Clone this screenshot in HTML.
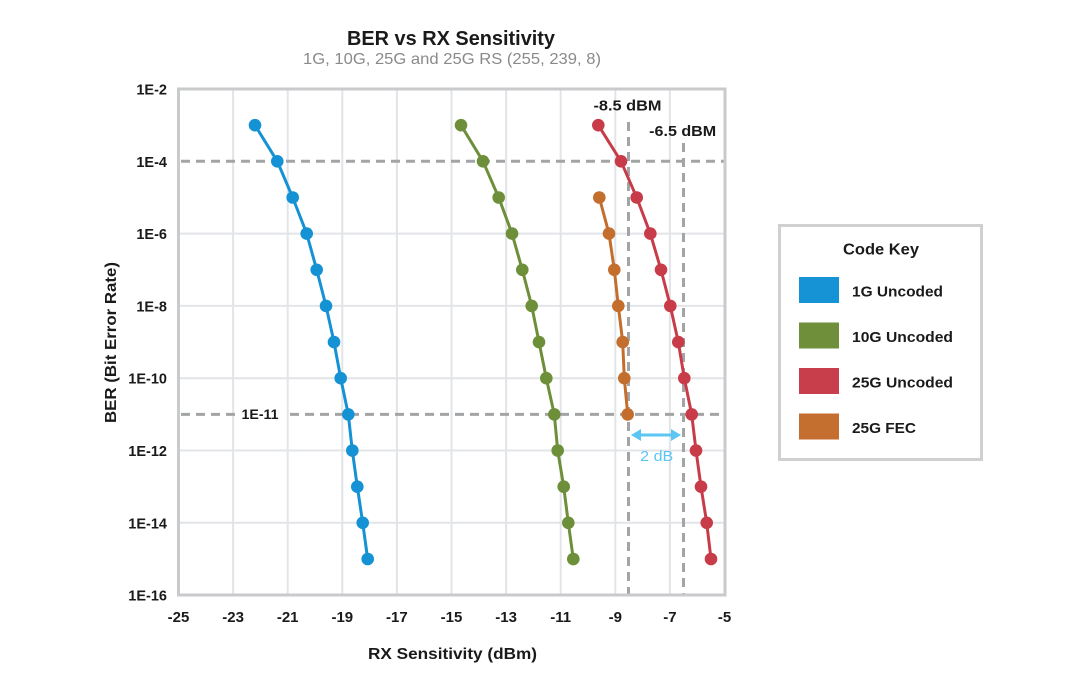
<!DOCTYPE html>
<html><head><meta charset="utf-8"><style>
html,body{margin:0;padding:0;background:#fff;}
svg{display:block;font-family:"Liberation Sans",sans-serif;}
</style></head><body>
<svg width="1080" height="680" viewBox="0 0 1080 680" xmlns="http://www.w3.org/2000/svg">
<rect width="1080" height="680" fill="#fff"/>
<!-- title -->
<text x="451" y="45" text-anchor="middle" font-size="20" font-weight="bold" fill="#1a1a1a" textLength="208" lengthAdjust="spacingAndGlyphs">BER vs RX Sensitivity</text>
<text x="452" y="64" text-anchor="middle" font-size="16" fill="#8a8a8a" textLength="298" lengthAdjust="spacingAndGlyphs">1G, 10G, 25G and 25G RS (255, 239, 8)</text>

<!-- grid -->
<g stroke="#e2e4e8" stroke-width="2">
<line x1="233.1" y1="89" x2="233.1" y2="595"/>
<line x1="287.7" y1="89" x2="287.7" y2="595"/>
<line x1="342.3" y1="89" x2="342.3" y2="595"/>
<line x1="396.9" y1="89" x2="396.9" y2="595"/>
<line x1="451.5" y1="89" x2="451.5" y2="595"/>
<line x1="506.1" y1="89" x2="506.1" y2="595"/>
<line x1="560.7" y1="89" x2="560.7" y2="595"/>
<line x1="615.3" y1="89" x2="615.3" y2="595"/>
<line x1="669.9" y1="89" x2="669.9" y2="595"/>
<line x1="178" y1="233.6" x2="725" y2="233.6"/>
<line x1="178" y1="305.9" x2="725" y2="305.9"/>
<line x1="178" y1="378.2" x2="725" y2="378.2"/>
<line x1="178" y1="450.5" x2="725" y2="450.5"/>
<line x1="178" y1="522.8" x2="725" y2="522.8"/>
</g>

<!-- dashed reference lines -->
<g stroke="#a3a4a6" stroke-width="3" stroke-dasharray="9 6" fill="none">
<line x1="181" y1="161.3" x2="724" y2="161.3"/>
<line x1="181" y1="414.4" x2="236" y2="414.4"/>
<line x1="290" y1="414.4" x2="724" y2="414.4"/>
<line x1="628.5" y1="122" x2="628.5" y2="594"/>
<line x1="683.5" y1="143" x2="683.5" y2="594"/>
</g>

<!-- annotation labels -->
<text x="627.5" y="110.5" text-anchor="middle" font-size="15" font-weight="bold" fill="#1a1a1a" textLength="68" lengthAdjust="spacingAndGlyphs">-8.5 dBM</text>
<text x="682.7" y="136" text-anchor="middle" font-size="15" font-weight="bold" fill="#1a1a1a" textLength="67" lengthAdjust="spacingAndGlyphs">-6.5 dBM</text>
<text x="260" y="419" text-anchor="middle" font-size="14" font-weight="bold" fill="#1a1a1a" textLength="37" lengthAdjust="spacingAndGlyphs">1E-11</text>

<!-- 2 dB arrow -->
<g stroke="#5bc6f2" stroke-width="3" fill="#5bc6f2">
<line x1="638" y1="435" x2="674" y2="435"/>
<polygon points="631,435 641,429 641,441" stroke="none"/>
<polygon points="681,435 671,429 671,441" stroke="none"/>
</g>
<text x="656.7" y="461" text-anchor="middle" font-size="15" fill="#5bc6f2" textLength="33" lengthAdjust="spacingAndGlyphs">2 dB</text>

<!-- series -->
<g stroke-width="3" fill="none" stroke-linejoin="round">
<polyline stroke="#1592d3" points="255,125.2 277.3,161.3 292.7,197.5 306.7,233.6 316.7,269.8 326,305.9 334,342.1 340.7,378.2 348.3,414.4 352.3,450.5 357.3,486.7 362.7,522.8 367.7,559"/>
<polyline stroke="#6e8f3a" points="461,125.2 483,161.3 498.7,197.5 512,233.6 522.3,269.8 531.7,305.9 539,342.1 546.3,378.2 554.3,414.4 557.7,450.5 563.7,486.7 568.3,522.8 573.3,559"/>
<polyline stroke="#c73c48" points="598.3,125.2 621,161.3 636.7,197.5 650.3,233.6 661,269.8 670.3,305.9 678.3,342.1 684.3,378.2 691.7,414.4 696,450.5 701,486.7 706.7,522.8 711,559"/>
<polyline stroke="#c46e2e" points="599.3,197.5 609,233.6 614.3,269.8 618.3,305.9 622.7,342.1 624.3,378.2 627.7,414.4"/>
</g>
<g fill="#1592d3">
<circle cx="255" cy="125.2" r="6.3"/><circle cx="277.3" cy="161.3" r="6.3"/><circle cx="292.7" cy="197.5" r="6.3"/><circle cx="306.7" cy="233.6" r="6.3"/><circle cx="316.7" cy="269.8" r="6.3"/><circle cx="326" cy="305.9" r="6.3"/><circle cx="334" cy="342.1" r="6.3"/><circle cx="340.7" cy="378.2" r="6.3"/><circle cx="348.3" cy="414.4" r="6.3"/><circle cx="352.3" cy="450.5" r="6.3"/><circle cx="357.3" cy="486.7" r="6.3"/><circle cx="362.7" cy="522.8" r="6.3"/><circle cx="367.7" cy="559" r="6.3"/>
</g>
<g fill="#6e8f3a">
<circle cx="461" cy="125.2" r="6.3"/><circle cx="483" cy="161.3" r="6.3"/><circle cx="498.7" cy="197.5" r="6.3"/><circle cx="512" cy="233.6" r="6.3"/><circle cx="522.3" cy="269.8" r="6.3"/><circle cx="531.7" cy="305.9" r="6.3"/><circle cx="539" cy="342.1" r="6.3"/><circle cx="546.3" cy="378.2" r="6.3"/><circle cx="554.3" cy="414.4" r="6.3"/><circle cx="557.7" cy="450.5" r="6.3"/><circle cx="563.7" cy="486.7" r="6.3"/><circle cx="568.3" cy="522.8" r="6.3"/><circle cx="573.3" cy="559" r="6.3"/>
</g>
<g fill="#c73c48">
<circle cx="598.3" cy="125.2" r="6.3"/><circle cx="621" cy="161.3" r="6.3"/><circle cx="636.7" cy="197.5" r="6.3"/><circle cx="650.3" cy="233.6" r="6.3"/><circle cx="661" cy="269.8" r="6.3"/><circle cx="670.3" cy="305.9" r="6.3"/><circle cx="678.3" cy="342.1" r="6.3"/><circle cx="684.3" cy="378.2" r="6.3"/><circle cx="691.7" cy="414.4" r="6.3"/><circle cx="696" cy="450.5" r="6.3"/><circle cx="701" cy="486.7" r="6.3"/><circle cx="706.7" cy="522.8" r="6.3"/><circle cx="711" cy="559" r="6.3"/>
</g>
<g fill="#c46e2e">
<circle cx="599.3" cy="197.5" r="6.3"/><circle cx="609" cy="233.6" r="6.3"/><circle cx="614.3" cy="269.8" r="6.3"/><circle cx="618.3" cy="305.9" r="6.3"/><circle cx="622.7" cy="342.1" r="6.3"/><circle cx="624.3" cy="378.2" r="6.3"/><circle cx="627.7" cy="414.4" r="6.3"/>
</g>

<!-- plot border -->
<rect x="178.5" y="89" width="546.5" height="506" fill="none" stroke="#c9cacc" stroke-width="3"/>

<!-- y tick labels -->
<g font-size="14.5" font-weight="bold" fill="#1a1a1a" text-anchor="end">
<text x="167" y="94.5">1E-2</text>
<text x="167" y="166.8">1E-4</text>
<text x="167" y="239.1">1E-6</text>
<text x="167" y="311.4">1E-8</text>
<text x="167" y="383.7">1E-10</text>
<text x="167" y="456">1E-12</text>
<text x="167" y="528.3">1E-14</text>
<text x="167" y="600.5">1E-16</text>
</g>
<!-- x tick labels -->
<g font-size="15" font-weight="bold" fill="#1a1a1a" text-anchor="middle">
<text x="178.5" y="622">-25</text>
<text x="233.1" y="622">-23</text>
<text x="287.7" y="622">-21</text>
<text x="342.3" y="622">-19</text>
<text x="396.9" y="622">-17</text>
<text x="451.5" y="622">-15</text>
<text x="506.1" y="622">-13</text>
<text x="560.7" y="622">-11</text>
<text x="615.3" y="622">-9</text>
<text x="669.9" y="622">-7</text>
<text x="724.5" y="622">-5</text>
</g>

<!-- axis titles -->
<text x="452.5" y="659" text-anchor="middle" font-size="16" font-weight="bold" fill="#1a1a1a" textLength="169" lengthAdjust="spacingAndGlyphs">RX Sensitivity (dBm)</text>
<text transform="translate(116,342.5) rotate(-90)" text-anchor="middle" font-size="16" font-weight="bold" fill="#1a1a1a" textLength="161" lengthAdjust="spacingAndGlyphs">BER (Bit Error Rate)</text>

<!-- legend -->
<rect x="779.5" y="225.5" width="202" height="234" fill="#fff" stroke="#cfd0d2" stroke-width="3"/>
<text x="881" y="254.5" text-anchor="middle" font-size="16" font-weight="bold" fill="#1a1a1a" textLength="76" lengthAdjust="spacingAndGlyphs">Code Key</text>
<rect x="799" y="277" width="40" height="26" fill="#1593d4"/>
<rect x="799" y="322.5" width="40" height="26" fill="#6f8f3b"/>
<rect x="799" y="368" width="40" height="26" fill="#c83e4a"/>
<rect x="799" y="413.5" width="40" height="26" fill="#c46e2f"/>
<g font-size="15" font-weight="bold" fill="#1a1a1a">
<text x="852" y="296.5" textLength="91" lengthAdjust="spacingAndGlyphs">1G Uncoded</text>
<text x="852" y="342" textLength="101" lengthAdjust="spacingAndGlyphs">10G Uncoded</text>
<text x="852" y="387.5" textLength="101" lengthAdjust="spacingAndGlyphs">25G Uncoded</text>
<text x="852" y="433" textLength="64" lengthAdjust="spacingAndGlyphs">25G FEC</text>
</g>
</svg>
</body></html>
